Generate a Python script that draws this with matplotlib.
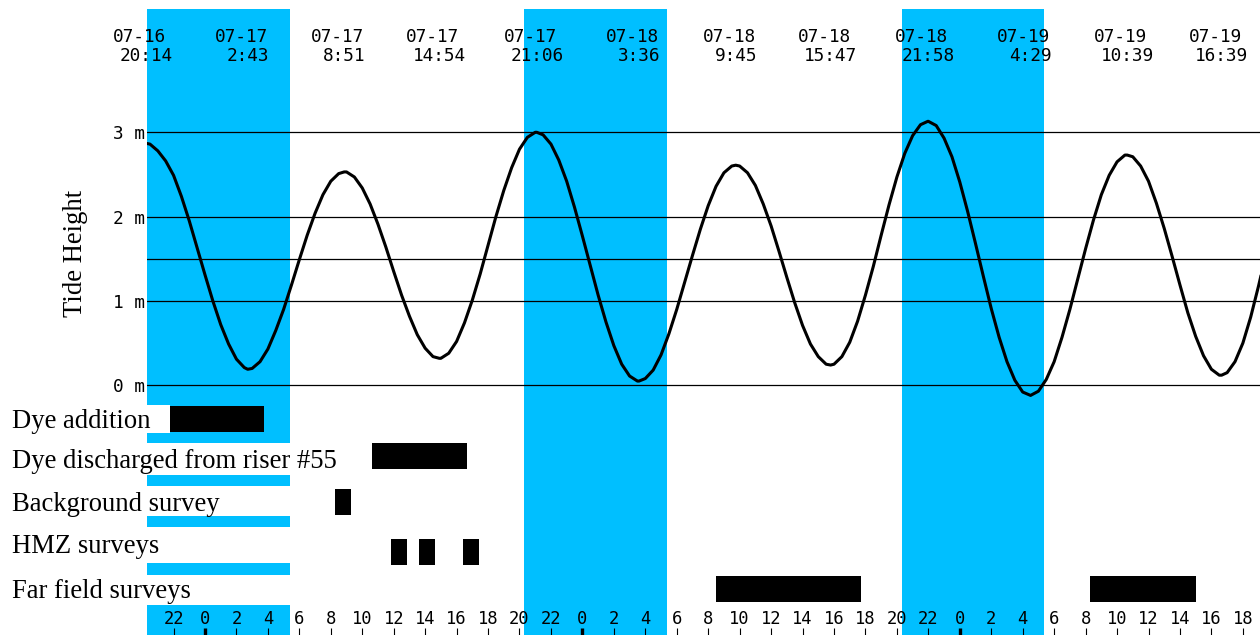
import matplotlib
matplotlib.use("Agg")
import matplotlib.pyplot as plt
from matplotlib.patches import Rectangle

plt.rcParams['font.family'] = ['DejaVu Sans Mono']

# ---------------- data ----------------
# half-hourly tide height readings (m); hours counted from 07-17 00:00, from -4 h to 68 h
reading_times = [k / 2 for k in range(-8, 137)]
reading_heights = [
    2.86, 2.86, 2.78, 2.66, 2.49, 2.24, 1.95, 1.63, 1.31, 1.00,   # -4.0 .. 0.5
    0.72, 0.49, 0.31, 0.21, 0.20, 0.28, 0.43, 0.65, 0.90, 1.19,   # 1.0 .. 5.5
    1.49, 1.78, 2.04, 2.26, 2.42, 2.51, 2.53, 2.47, 2.34, 2.15,   # 6.0 .. 10.5
    1.91, 1.64, 1.35, 1.07, 0.82, 0.60, 0.44, 0.34, 0.32, 0.38,   # 11.0 .. 15.5
    0.52, 0.74, 1.01, 1.32, 1.66, 2.00, 2.31, 2.58, 2.80, 2.94,   # 16.0 .. 20.5
    3.00, 2.97, 2.86, 2.67, 2.42, 2.11, 1.77, 1.42, 1.07, 0.75,   # 21.0 .. 25.5
    0.47, 0.25, 0.11, 0.05, 0.08, 0.18, 0.36, 0.61, 0.90, 1.22,   # 26.0 .. 30.5
    1.54, 1.85, 2.13, 2.36, 2.52, 2.60, 2.60, 2.52, 2.37, 2.15,   # 31.0 .. 35.5
    1.89, 1.59, 1.28, 0.98, 0.71, 0.49, 0.34, 0.25, 0.25, 0.34,   # 36.0 .. 40.5
    0.51, 0.76, 1.07, 1.41, 1.78, 2.14, 2.47, 2.75, 2.96, 3.09,   # 41.0 .. 45.5
    3.13, 3.08, 2.93, 2.71, 2.41, 2.06, 1.68, 1.29, 0.91, 0.57,   # 46.0 .. 50.5
    0.28, 0.06, -0.08, -0.12, -0.07, 0.07, 0.28, 0.57, 0.90, 1.26,  # 51.0 .. 55.5
    1.62, 1.96, 2.26, 2.49, 2.65, 2.73, 2.71, 2.60, 2.42, 2.16,   # 56.0 .. 60.5
    1.86, 1.53, 1.19, 0.86, 0.58, 0.35, 0.19, 0.12, 0.15, 0.28,   # 61.0 .. 65.5
    0.50, 0.81, 1.18, 1.58, 1.99]                                 # 66.0 .. 68.0

# high / low tide events
extreme_dates = ["07-16", "07-17", "07-17", "07-17", "07-17", "07-18",
                 "07-18", "07-18", "07-18", "07-19", "07-19", "07-19"]
extreme_clock = ["20:14", "2:43", "8:51", "14:54", "21:06", "3:36",
                 "9:45", "15:47", "21:58", "4:29", "10:39", "16:39"]
extreme_heights = [2.87, 0.19, 2.53, 0.32, 3.00, 0.05,
                   2.61, 0.24, 3.13, -0.12, 2.73, 0.12]
day_offset = {"07-16": -24, "07-17": 0, "07-18": 24, "07-19": 48}

# night periods (hours from 07-17 00:00)
night_start = [-3.70, 20.31, 44.30]
night_end = [5.40, 29.38, 53.37]

# activities
activities = ["Dye addition", "Dye discharged from riser #55",
              "Background survey", "HMZ surveys", "Far field surveys"]
activity_start = [[-2.23], [10.64], [8.27], [11.81, 13.59, 16.43], [32.49, 56.25]]
activity_end = [[3.75], [16.64], [9.28], [12.83, 14.61, 17.44], [41.69, 63.05]]

level_lines = [0, 1, 1.5, 2, 3]
ytick_values = [0, 1, 2, 3]
ytick_labels = ["0 m", "1 m", "2 m", "3 m"]
xtick_hours = list(range(-2, 67, 2))

# ---------------- layout ----------------
W, H = 1260, 635
BLUE = '#00BFFF'


def fx(px):
    return px / W


def fy(py):
    return 1 - py / H


fig = plt.figure(figsize=(W / 100, H / 100), dpi=100)
ax_top, ax_bot, ax_left, ax_right = 8.5, 635, 147, 1260
rect = [fx(ax_left), fy(ax_bot), fx(ax_right) - fx(ax_left), fy(ax_top) - fy(ax_bot)]
ax = fig.add_axes(rect)
ax.set_xlim(-3.688, 67.09)
ax.set_ylim(-2.961, 4.468)
for s in ax.spines.values():
    s.set_visible(False)

for a, b in zip(night_start, night_end):
    ax.axvspan(a, b, color=BLUE, lw=0, zorder=0)

for lv in level_lines:
    ax.axhline(lv, color='black', lw=0.9, zorder=1)

extreme_hours = []
for d, c in zip(extreme_dates, extreme_clock):
    hh, mm = c.split(':')
    extreme_hours.append(day_offset[d] + int(hh) + int(mm) / 60)

pts = sorted(list(zip(reading_times, reading_heights)) + list(zip(extreme_hours, extreme_heights)))
ax.plot([p[0] for p in pts], [p[1] for p in pts], color='black', lw=2.2,
        solid_joinstyle='round', solid_capstyle='round', zorder=3)

# event labels
for d, c, t in zip(extreme_dates, extreme_clock, extreme_hours):
    ax.annotate(d, xy=(t, 1), xycoords=('data', 'axes fraction'),
                xytext=(-6.5, -33.5), textcoords='offset pixels',
                ha='center', va='baseline', fontsize=12.8, annotation_clip=False)
    ax.annotate(c, xy=(t, 1), xycoords=('data', 'axes fraction'),
                xytext=(0, -52.2), textcoords='offset pixels',
                ha='center', va='baseline', fontsize=12.8, annotation_clip=False)

ax.set_yticks(ytick_values, ytick_labels)
ax.tick_params(axis='y', length=0, pad=1.5, labelsize=12.8)
ax.set_xticks(xtick_hours, [str(h % 24) for h in xtick_hours])
ax.tick_params(axis='x', direction='in', length=5, width=0.8, pad=-18, labelsize=12.3)
for tk, h in zip(ax.xaxis.get_major_ticks(), xtick_hours):
    if h % 24 == 0:
        tk.tick1line.set_markeredgewidth(2.4)

# ---------------- activities ----------------
ax2 = fig.add_axes(rect)
ax2.set_xlim(ax.get_xlim())
ax2.set_ylim(ax_bot, ax_top)
ax2.axis('off')
ax2.patch.set_alpha(0)
row_centre = [418.8, 456.5, 501.6, 552.0, 589.5]
bar_h = 26
for yc, st, en in zip(row_centre, activity_start, activity_end):
    ax2.broken_barh([(s, e - s) for s, e in zip(st, en)], (yc - bar_h / 2, bar_h),
                    facecolor='black', edgecolor='none')

# white label boxes
boxes = [(0, 170, 405, 433), (0, 300, 443, 475), (0, 300, 486, 516),
         (0, 300, 527, 563), (0, 300, 574.5, 605)]
for x0, x1, y0, y1 in boxes:
    fig.add_artist(Rectangle((fx(x0), fy(y1)), fx(x1) - fx(x0), fy(y0) - fy(y1),
                             transform=fig.transFigure, facecolor='white',
                             edgecolor='none', zorder=1))

baselines = [428, 467.8, 510.7, 552.7, 598.3]
for name, yb in zip(activities, baselines):
    fig.text(fx(12.5), fy(yb), name, family='Liberation Serif', fontsize=19.2,
             ha='left', va='baseline', zorder=5)

fig.text(fx(75.5), fy(253), "Tide Height", rotation=90, family='Liberation Serif',
         fontsize=19.2, ha='center', va='center', zorder=5)

fig.savefig('out.png', dpi=100)
